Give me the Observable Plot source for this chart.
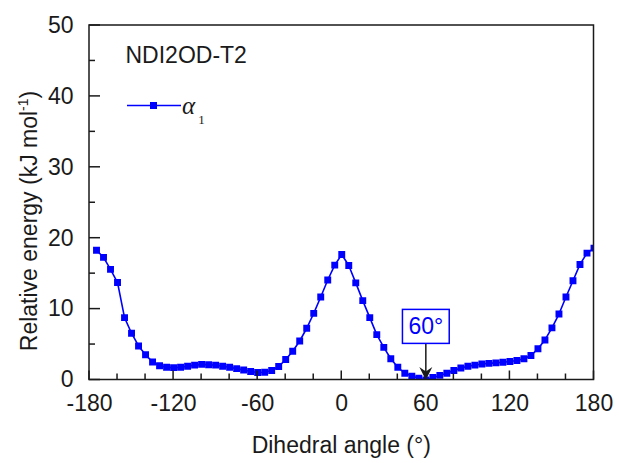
<!DOCTYPE html>
<html>
<head>
<meta charset="utf-8">
<script src="https://cdn.jsdelivr.net/npm/d3@7"></script>
<script src="https://cdn.jsdelivr.net/npm/@observablehq/plot@0.6"></script>
<style>
  html, body { margin: 0; padding: 0; background: #fff; }
  #chart { width: 619px; height: 463px; }
</style>
</head>
<body>
<div id="chart"></div>
<script>
// Torsion scan of the NDI2OD-T2 backbone: relative energy vs. dihedral angle α1
const angles = [
  -175, -170, -165, -160, -155, -150, -145, -140, -135, -130, -125, -120,
  -115, -110, -105, -100, -95, -90, -85, -80, -75, -70, -65, -60,
  -55, -50, -45, -40, -35, -30, -25, -20, -15, -10, -5, 0,
  5, 10, 15, 20, 25, 30, 35, 40, 45, 50, 55, 60,
  65, 70, 75, 80, 85, 90, 95, 100, 105, 110, 115, 120,
  125, 130, 135, 140, 145, 150, 155, 160, 165, 170, 175, 180
];
const energies = [
  18.3, 17.3, 15.6, 13.75, 8.8, 6.6, 4.8, 3.55, 2.55, 2.0, 1.8, 1.75,
  1.8, 1.95, 2.1, 2.2, 2.15, 2.1, 1.95, 1.8, 1.6, 1.4, 1.2, 1.05,
  1.1, 1.35, 1.9, 2.9, 4.05, 5.5, 7.3, 9.4, 11.7, 14.1, 16.2, 17.7,
  16.15, 13.7, 11.2, 8.8, 6.4, 4.6, 3.0, 1.8, 0.95, 0.55, 0.25, 0,
  0.35, 0.65, 0.96, 1.34, 1.7, 1.95, 2.1, 2.25, 2.35, 2.42, 2.5, 2.6,
  2.75, 3.0, 3.45, 4.4, 5.65, 7.35, 9.3, 11.7, 14.0, 16.3, 17.9, 18.6
];

const xMajorTicks = [-180, -120, -60, 0, 60, 120, 180];
const xMinorTicks = [-160, -140, -100, -80, -40, -20, 20, 40, 80, 100, 140, 160];
const yMajorTicks = [0, 10, 20, 30, 40, 50];
const yMinorTicks = [5, 15, 25, 35, 45];

const panelTitle = "NDI2OD-T2";
const seriesSymbol = "α";
const seriesIndex = "1";
const xTitle = "Dihedral angle (°)";
const yTitleMain = "Relative energy (kJ mol";
const yTitleSup = "-1";
const yTitleEnd = ")";

// global minimum callout
const minimum = [{angle: 60, energy: 0, label: "60°", labelEnergy: 7.47, arrowTop: 5.1}];

const rows = angles.map((a, i) => ({angle: a, energy: energies[i]}));

const blue = "#0000ff";
const ink = "#1a1a1a";
const sans = "'Liberation Sans', Arial, Helvetica, sans-serif";
const serif = "'Liberation Serif', 'Times New Roman', serif";

// filled, notched arrowhead whose tip sits on the anchor point
const arrowHead = {
  draw(ctx) {
    ctx.moveTo(0, 0);
    ctx.lineTo(-6.5, -13);
    ctx.lineTo(0, -8.5);
    ctx.lineTo(6.5, -13);
    ctx.closePath();
  }
};

const plain = d => String(d);

const chart = Plot.plot({
  width: 619,
  height: 463,
  marginLeft: 89,
  marginRight: 25.5,
  marginTop: 25,
  marginBottom: 83.5,
  style: {fontFamily: sans, fontSize: "23px", color: ink, background: "#fff"},
  x: {domain: [-180, 180]},
  y: {domain: [0, 50]},
  marks: [
    Plot.line(rows, {x: "angle", y: "energy", stroke: blue, strokeWidth: 1.6, clip: true}),
    Plot.dot(rows, {x: "angle", y: "energy", symbol: "square", r: 3.9, fill: blue, stroke: "none", clip: true}),
    Plot.ruleX(minimum, {x: "angle", y1: "energy", y2: "arrowTop", stroke: ink, strokeWidth: 1.5}),
    Plot.dot(minimum, {x: "angle", y: "energy", symbol: arrowHead, r: 4, fill: ink, stroke: "none"}),
    Plot.text(minimum, {x: "angle", y: "labelEnergy", text: "label", fill: blue, fontSize: 23}),
    Plot.text([panelTitle], {frameAnchor: "top-left", text: d => d, dx: 36, dy: 21.5, lineAnchor: "top", textAnchor: "start", fill: ink, fontSize: 23}),
    Plot.axisX(xMajorTicks, {tickSize: 0, tickPadding: 15, tickFormat: plain, label: null, fill: ink}),
    Plot.axisY(yMajorTicks, {tickSize: 0, tickPadding: 16, tickFormat: plain, label: null, fill: ink})
  ]
});

document.getElementById("chart").append(chart);

{
  const svg = d3.select(chart);
  const sx = chart.scale("x");
  const sy = chart.scale("y");
  const [plotLeft, plotRight] = sx.range;
  const [plotBottom, plotTop] = sy.range;

  // box around the minimum label, in the label's own coordinate system
  const labelText = svg.selectAll("text").filter(function () { return this.textContent === minimum[0].label; });
  if (!labelText.empty()) {
    const node = labelText.node();
    const bb = node.getBBox();
    const cy = bb.y + bb.height / 2;
    const boxRect = d3.select(node.parentNode).insert("rect", () => node)
      .attr("x", bb.x - 6)
      .attr("y", cy - 17)
      .attr("width", bb.width + 12)
      .attr("height", 34)
      .attr("fill", "#fff")
      .attr("stroke", blue)
      .attr("stroke-width", 1.5);
    if (node.getAttribute("transform")) boxRect.attr("transform", node.getAttribute("transform"));
  }

  // inward ticks and the plot frame, placed with the chart's scales
  const axes = svg.append("g").attr("fill", "none").attr("stroke", ink).attr("stroke-width", 1.5);
  const xTick = (list, len) => list.forEach(v => {
    const x = sx.apply(v);
    axes.append("line").attr("x1", x).attr("x2", x).attr("y1", plotBottom).attr("y2", plotBottom - len);
  });
  const yTick = (list, len) => list.forEach(v => {
    const y = sy.apply(v);
    axes.append("line").attr("x1", plotLeft).attr("x2", plotLeft + len).attr("y1", y).attr("y2", y);
  });
  xTick(xMajorTicks, 9);
  xTick(xMinorTicks, 6);
  yTick(yMajorTicks, 11);
  yTick(yMinorTicks, 6);
  axes.append("rect")
    .attr("x", plotLeft).attr("y", plotTop)
    .attr("width", plotRight - plotLeft).attr("height", plotBottom - plotTop);

  // legend entry
  const legend = svg.append("g").attr("class", "legend");
  legend.append("line")
    .attr("x1", 127).attr("x2", 181).attr("y1", 105.5).attr("y2", 105.5)
    .attr("stroke", blue).attr("stroke-width", 1.6);
  legend.append("rect")
    .attr("x", 153.5 - 3.5).attr("y", 105.5 - 3.5).attr("width", 7).attr("height", 7)
    .attr("fill", blue);
  legend.append("text")
    .attr("x", 188.5).attr("y", 114)
    .attr("font-family", serif).attr("font-style", "italic").attr("font-size", 25)
    .attr("fill", ink)
    .text(seriesSymbol);
  legend.append("text")
    .attr("x", 201.5).attr("y", 123.5)
    .attr("font-family", serif).attr("font-size", 13)
    .attr("fill", ink)
    .text(seriesIndex);

  // axis titles
  svg.append("text")
    .attr("x", (plotLeft + plotRight) / 2).attr("y", 452.5)
    .attr("text-anchor", "middle")
    .attr("font-family", sans).attr("font-size", 23).attr("fill", ink)
    .text(xTitle);

  const yt = svg.append("text")
    .attr("transform", "translate(37,221) rotate(-90)")
    .attr("text-anchor", "middle")
    .attr("font-family", sans).attr("font-size", 23).attr("fill", ink);
  yt.append("tspan").text(yTitleMain);
  yt.append("tspan").attr("font-size", 14).attr("dy", -9).text(yTitleSup);
  yt.append("tspan").attr("dy", 9).text(yTitleEnd);
}
</script>
</body>
</html>
